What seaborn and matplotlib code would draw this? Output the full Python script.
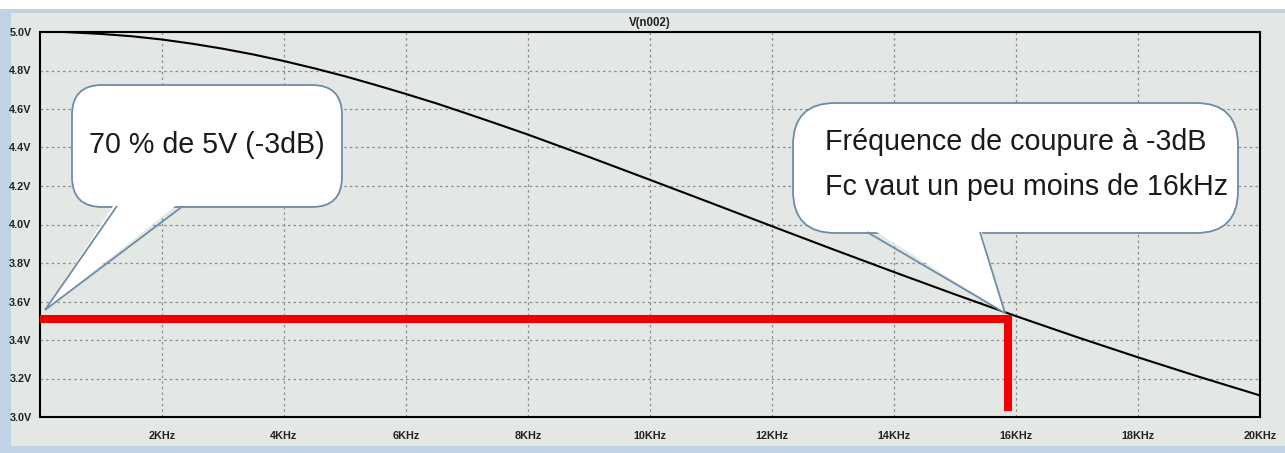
import numpy as np
import pandas as pd
import seaborn as sns
import matplotlib.pyplot as plt
from matplotlib import font_manager
from matplotlib.patches import FancyBboxPatch, Polygon, Rectangle
from matplotlib.transforms import Affine2D

freq_khz = [0.4, 1, 1.5, 2, 2.5, 3, 3.5, 4, 4.5, 5, 5.5, 6, 6.5, 7, 7.5, 8, 9, 10,
            11, 12, 13, 14, 15, 16, 17, 18, 19, 20]
volts = [5.000, 4.990, 4.978, 4.961, 4.939, 4.913, 4.883, 4.849, 4.811, 4.770, 4.725,
         4.678, 4.629, 4.576, 4.522, 4.467, 4.351, 4.232, 4.112, 3.991, 3.871, 3.753,
         3.637, 3.524, 3.415, 3.310, 3.209, 3.112]

# -3dB markers (red)
fc_khz = 15.87
v_cut = 3.51
v_floor = 3.03

x_ticks = [2, 4, 6, 8, 10, 12, 14, 16, 18, 20]
x_labels = ["2KHz", "4KHz", "6KHz", "8KHz", "10KHz", "12KHz", "14KHz", "16KHz", "18KHz", "20KHz"]
y_ticks = [3.0, 3.2, 3.4, 3.6, 3.8, 4.0, 4.2, 4.4, 4.6, 4.8, 5.0]
y_labels = ["3.0V", "3.2V", "3.4V", "3.6V", "3.8V", "4.0V", "4.2V", "4.4V", "4.6V", "4.8V", "5.0V"]

note_left = "70 % de 5V (-3dB)"
note_right = ["Fréquence de coupure à -3dB", "Fc vaut un peu moins de 16kHz"]

installed = {f.name for f in font_manager.fontManager.ttflist}
narrow = "Liberation Sans Narrow" in installed
fam = ["Liberation Sans Narrow", "Liberation Sans", "DejaVu Sans"] if narrow else ["Liberation Sans", "DejaVu Sans"]
big = 25 if narrow else 20.6
small = 9 if narrow else 7.8

sns.set_style("white")
plt.rcParams["font.family"] = fam

bg = "#e4e8e4"
W, H = 1285, 453
fig = plt.figure(figsize=(W / 100, H / 100), dpi=100)
fig.patch.set_facecolor("#bfd2e6")
# pixel coords (top-left origin) -> display
T = Affine2D().scale(1 / 100, -1 / 100).translate(0, H / 100) + fig.dpi_scale_trans
fig.add_artist(Rectangle((0, 0), W, 9, transform=T, facecolor="white", edgecolor="none", zorder=-5))
fig.add_artist(Rectangle((11, 13), 1274, 433, transform=T, facecolor=bg, edgecolor="none", zorder=-4))

ax = fig.add_axes([40 / W, (H - 417) / H, 1220 / W, 385 / H])
ax.set_facecolor(bg)

df = pd.DataFrame({"f": freq_khz, "v": volts})
sns.lineplot(data=df, x="f", y="v", color="black", linewidth=1.5, ax=ax, zorder=3)

red = pd.DataFrame({"f": [0, fc_khz, fc_khz], "v": [v_cut, v_cut, v_floor]})
sns.lineplot(data=red, x="f", y="v", sort=False, estimator=None, color="#f20000", linewidth=5.8,
             ax=ax, zorder=4, solid_joinstyle="miter", solid_capstyle="butt")

ax.set_xlim(0, 20)
ax.set_ylim(3.0, 5.0)
ax.set_xticks(x_ticks)
ax.set_xticklabels(x_labels, fontsize=small, fontweight="bold", color="#222222")
ax.set_yticks(y_ticks)
ax.set_yticklabels(y_labels, fontsize=small, fontweight="bold", color="#222222")
ax.set_xlabel("")
ax.set_ylabel("")
ax.tick_params(axis="both", direction="out", length=5, width=1.5, color="black")
ax.tick_params(axis="y", pad=1)
ax.tick_params(axis="x", pad=5)
ax.grid(True, color="#8c8c8c", linestyle=(0, (2, 2.5)), linewidth=0.9)
for s in ax.spines.values():
    s.set_visible(True)
    s.set_color("black")
    s.set_linewidth(1.5)
ax.set_title("V(n002)", fontsize=small + 0.5, fontweight="bold", pad=4, color="#222222")

edge = "#6f8ca6"


def bubble(x0, y0, x1, y1, r, tail):
    box = FancyBboxPatch((x0, y0), x1 - x0, y1 - y0, boxstyle=f"round,pad=0,rounding_size={r}",
                         transform=T, facecolor="white", edgecolor=edge, linewidth=1.3, zorder=10)
    fig.add_artist(box)
    (bl, tip, br) = tail
    fill = Polygon([(bl[0], bl[1] - 6), tip, (br[0], br[1] - 6)], closed=True, transform=T,
                   facecolor="white", edgecolor="none", zorder=11)
    fig.add_artist(fill)
    outline = Polygon([bl, tip, br], closed=False, transform=T, facecolor="none",
                      edgecolor=edge, linewidth=1.3, zorder=12)
    fig.add_artist(outline)


bubble(72, 85, 342, 207, 30, [(117, 206), (45, 310), (183, 206)])
bubble(793, 103, 1238, 233, 42, [(867, 232), (1005, 313), (980, 232)])

fig.text(*T.transform((207, 145)), note_left, transform=None, ha="center", va="center",
         fontsize=big, color="#1a1a1a", zorder=20)
fig.text(*T.transform((825, 142)), note_right[0], transform=None, ha="left", va="center",
         fontsize=big, color="#1a1a1a", zorder=20)
fig.text(*T.transform((825, 187)), note_right[1], transform=None, ha="left", va="center",
         fontsize=big, color="#1a1a1a", zorder=20)

fig.savefig("out.png", dpi=100, facecolor=fig.get_facecolor())
